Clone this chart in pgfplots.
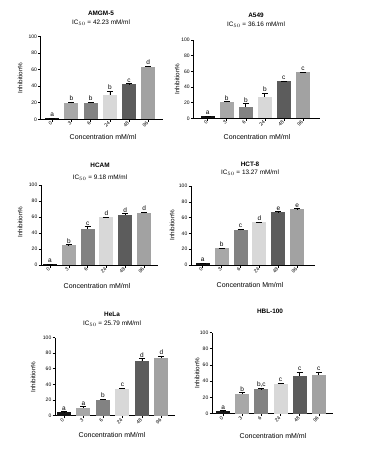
\documentclass[border=0pt]{standalone}
\usepackage{fontspec}
\setmainfont{Liberation Sans}
\usepackage{pgfplots}
\pgfplotsset{compat=1.18}

\definecolor{c0}{HTML}{151515}
\definecolor{c1}{HTML}{A8A8A8}
\definecolor{c2}{HTML}{828282}
\definecolor{c3}{HTML}{D8D8D8}
\definecolor{c4}{HTML}{5C5C5C}
\definecolor{c5}{HTML}{A2A2A2}

\newcommand{\cbar}[4]{\addplot[ybar, bar width=14pt, bar shift=0pt, fill=#1, draw=none,
  error bars/.cd, y dir=plus, y explicit,
  error bar style={black, line width=0.7pt},
  error mark options={rotate=90, black, mark size=3pt, line width=0.7pt}]
  coordinates {(#2,#3) +- (0,#4)};}

\pgfplotsset{panel/.style={
  scale only axis,
  axis x line*=bottom, axis y line*=left,
  axis line style={line width=0.7pt},
  ymin=0, ymax=100, ytick={0,20,...,100},
  xtick={0,...,5}, xticklabels={0,3,6,24,48,96},
  tick align=outside, major tick length=2.5pt,
  tick style={black, line width=0.6pt},
  /pgf/number format/assume math mode=true,
  yticklabel style={font=\fontsize{5}{5}\selectfont, inner sep=1pt},
  xticklabel style={font=\fontsize{5}{5}\selectfont, rotate=45, anchor=east, inner sep=1pt},
},
letters/.style={draw=none, nodes near coords, point meta=explicit symbolic,
  nodes near coords style={anchor=south, font=\fontsize{6.5}{6.5}\selectfont, inner sep=1.2pt}}
}

\begin{document}
\begin{tikzpicture}
\path[use as bounding box] (0pt,0pt) rectangle (370pt,-449pt);

% Panel 1: AMGM-5
\begin{axis}[panel, at={(40.7pt,-119.3pt)}, anchor=south west, width=122pt, height=82.6pt, xmin=-0.6, xmax=5.75]
\cbar{c0}{0}{1}{0.3}
\cbar{c1}{1}{19.5}{1.5}
\cbar{c2}{2}{19.5}{1.2}
\cbar{c3}{3}{29.5}{4.8}
\cbar{c4}{4}{42.7}{0.6}
\cbar{c5}{5}{63.7}{1}
\addplot[letters] coordinates {(0,1.3)[a] (1,21)[b] (2,20.7)[b] (3,34.3)[b] (4,43.3)[c] (5,64.7)[d]};
\end{axis}
\node[font=\bfseries\fontsize{6.4}{7}\selectfont] at (101pt,-13pt) {AMGM-5};
\node[font=\fontsize{6.4}{7}\selectfont] at (101pt,-23pt) {IC$_{50}$ = 42.23 mM/ml};
\node[font=\fontsize{6.3}{7}\selectfont, rotate=90] at (20pt,-78pt) {Inhibition\%};
\node[font=\fontsize{7}{8}\selectfont] at (103pt,-137pt) {Concentration mM/ml};

% Panel 2: A549
\begin{axis}[panel, at={(193.3pt,-118.3pt)}, anchor=south west, width=126.7pt, height=78.3pt, xmin=-0.76, xmax=5.9]
\cbar{c0}{0}{2.5}{0.3}
\cbar{c1}{1}{20.5}{1}
\cbar{c2}{2}{15}{3.8}
\cbar{c3}{3}{27.5}{4.8}
\cbar{c4}{4}{47}{0.8}
\cbar{c5}{5}{58.5}{0.5}
\addplot[letters] coordinates {(0,2.8)[a] (1,21.5)[b] (2,18.8)[b] (3,32.3)[b] (4,47.8)[c] (5,59)[c]};
\end{axis}
\node[font=\bfseries\fontsize{6.4}{7}\selectfont] at (256pt,-15pt) {A549};
\node[font=\fontsize{6.4}{7}\selectfont] at (256pt,-25pt) {IC$_{50}$ = 36.16 mM/ml};
\node[font=\fontsize{6.3}{7}\selectfont, rotate=90] at (177pt,-79pt) {Inhibition\%};
\node[font=\fontsize{7}{8}\selectfont] at (257pt,-137pt) {Concentration mM/ml};

% Panel 3: HCAM
\begin{axis}[panel, at={(41pt,-265pt)}, anchor=south west, width=117pt, height=80pt, xmin=-0.48, xmax=5.74]
\cbar{c0}{0}{1}{0.3}
\cbar{c1}{1}{24.7}{0.5}
\cbar{c2}{2}{45.5}{2.2}
\cbar{c3}{3}{59.6}{0.4}
\cbar{c4}{4}{62.5}{1.5}
\cbar{c5}{5}{64.7}{1.7}
\addplot[letters] coordinates {(0,1.3)[a] (1,25.2)[b] (2,47.7)[c] (3,60)[d] (4,64)[d] (5,66.4)[d]};
\end{axis}
\node[font=\bfseries\fontsize{6.4}{7}\selectfont] at (100pt,-165pt) {HCAM};
\node[font=\fontsize{6.4}{7}\selectfont] at (100pt,-178pt) {IC$_{50}$ = 9.18 mM/ml};
\node[font=\fontsize{6.3}{7}\selectfont, rotate=90] at (20pt,-222pt) {Inhibition\%};
\node[font=\fontsize{7}{8}\selectfont] at (97pt,-286pt) {Concentration mM/ml};

% Panel 4: HCT-8
\begin{axis}[panel, at={(191pt,-265pt)}, anchor=south west, width=124pt, height=79pt, xmin=-0.62, xmax=5.94]
\cbar{c0}{0}{2.1}{0.3}
\cbar{c1}{1}{21}{0.4}
\cbar{c2}{2}{44.3}{0.8}
\cbar{c3}{3}{54}{0.6}
\cbar{c4}{4}{66.7}{0.6}
\cbar{c5}{5}{70.5}{0.6}
\addplot[letters] coordinates {(0,2.4)[a] (1,21.4)[b] (2,45.1)[c] (3,54.6)[d] (4,67.3)[e] (5,71.1)[e]};
\end{axis}
\node[font=\bfseries\fontsize{6.4}{7}\selectfont] at (250pt,-164pt) {HCT-8};
\node[font=\fontsize{6.4}{7}\selectfont] at (250pt,-173pt) {IC$_{50}$ = 13.27 mM/ml};
\node[font=\fontsize{6.3}{7}\selectfont, rotate=90] at (172pt,-225pt) {Inhibition\%};
\node[font=\fontsize{7}{8}\selectfont] at (250pt,-285pt) {Concentration Mm/ml};

% Panel 5: HeLa
\begin{axis}[panel, at={(55pt,-415.5pt)}, anchor=south west, width=120pt, height=78pt, xmin=-0.46, xmax=5.7]
\cbar{c0}{0}{4.5}{0.5}
\cbar{c1}{1}{10}{1.5}
\cbar{c2}{2}{20.5}{0.6}
\cbar{c3}{3}{34.5}{0.6}
\cbar{c4}{4}{69.5}{3.3}
\cbar{c5}{5}{73.5}{2.8}
\addplot[letters] coordinates {(0,5)[a] (1,11.5)[a] (2,21.1)[b] (3,35.1)[c] (4,72.8)[d] (5,76.3)[d]};
\end{axis}
\node[font=\bfseries\fontsize{6.4}{7}\selectfont] at (112pt,-314pt) {HeLa};
\node[font=\fontsize{6.4}{7}\selectfont] at (112pt,-323.5pt) {IC$_{50}$ = 25.79 mM/ml};
\node[font=\fontsize{6.3}{7}\selectfont, rotate=90] at (33pt,-377pt) {Inhibition\%};
\node[font=\fontsize{7}{8}\selectfont] at (112pt,-435pt) {Concentration mM/ml};

% Panel 6: HBL-100
\begin{axis}[panel, at={(212pt,-413.5pt)}, anchor=south west, width=121pt, height=81pt, xmin=-0.58, xmax=5.74]
\cbar{c0}{0}{3}{0.4}
\cbar{c1}{1}{24}{1.5}
\cbar{c2}{2}{30}{0.5}
\cbar{c3}{3}{37}{0.6}
\cbar{c4}{4}{46.5}{4.9}
\cbar{c5}{5}{47.5}{3.9}
\addplot[letters] coordinates {(0,3.4)[a] (1,25.5)[b] (2,30.5)[{b,c}] (3,37.6)[c] (4,51.4)[c] (5,51.4)[c]};
\end{axis}
\node[font=\bfseries\fontsize{6.4}{7}\selectfont] at (270pt,-311pt) {HBL-100};
\node[font=\fontsize{6.3}{7}\selectfont, rotate=90] at (197pt,-373pt) {Inhibition\%};
\node[font=\fontsize{7}{8}\selectfont] at (273pt,-436pt) {Concentration mM/ml};
\end{tikzpicture}
\end{document}
